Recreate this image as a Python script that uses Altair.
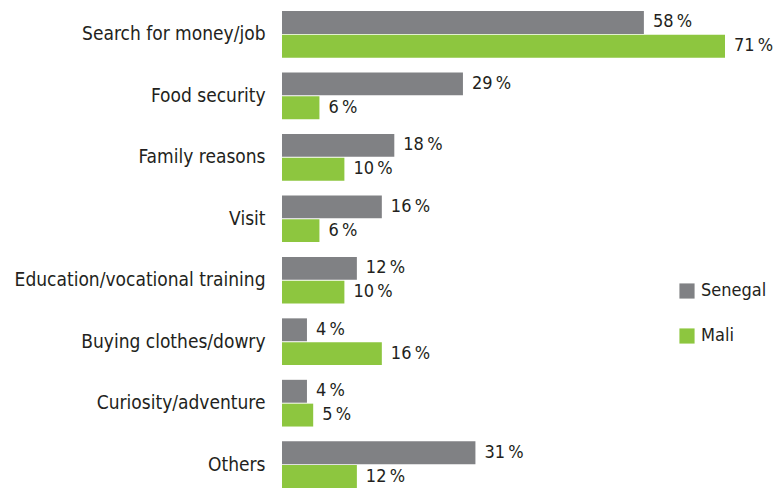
import altair as alt
import pandas as pd

categories = ["Search for money/job", "Food security", "Family reasons", "Visit",
              "Education/vocational training", "Buying clothes/dowry",
              "Curiosity/adventure", "Others"]
senegal = [58, 29, 18, 16, 12, 4, 4, 31]
mali = [71, 6, 10, 6, 10, 16, 5, 12]
countries = ["Senegal", "Mali"]
colors = ["#808184", "#8DC63F"]

rows = []
for c, s, m in zip(categories, senegal, mali):
    rows.append({"cat": c, "country": "Senegal", "val": s, "lab": f"{s}\u2009%"})
    rows.append({"cat": c, "country": "Mali", "val": m, "lab": f"{m}\u2009%"})
df = pd.DataFrame(rows)

FONT = "Liberation Sans Narrow, DejaVu Sans Condensed, sans-serif"

y = alt.Y("cat:N", sort=categories, title=None,
          scale=alt.Scale(paddingInner=0.24, paddingOuter=0),
          axis=alt.Axis(domain=False, ticks=False, labelPadding=17, labelFontSize=19,
                        labelColor="#231F20", labelFont=FONT, labelLimit=400))
yoff = alt.YOffset("country:N", sort=countries, scale=alt.Scale(paddingInner=0.04))
x = alt.X("val:Q", title=None, scale=alt.Scale(domain=[0, 71], nice=False),
          axis=None)

bars = alt.Chart(df).mark_bar().encode(
    x=x, y=y, yOffset=yoff,
    color=alt.Color("country:N", sort=countries,
                    scale=alt.Scale(domain=countries, range=colors),
                    legend=alt.Legend(title=None, orient="none", legendX=396, legendY=271,
                                      symbolType="square", symbolSize=230,
                                      symbolStrokeWidth=0, labelFontSize=18,
                                      labelFont=FONT, labelColor="#231F20",
                                      rowPadding=27, padding=0, labelOffset=5,
                                      labelLimit=200))
)
text = alt.Chart(df).mark_text(align="left", baseline="middle", dx=9, fontSize=18,
                               font=FONT, color="#231F20").encode(
    x=x, y=y, yOffset=yoff, text="lab:N"
)

chart = (bars + text).properties(
    width=443, height=477,
    autosize=alt.AutoSizeParams(type="none"),
    padding={"left": 274, "top": 3, "right": 48, "bottom": 0},
).configure_view(stroke=None)

chart.save("out.html", embed_options={"renderer": "svg", "actions": False})
